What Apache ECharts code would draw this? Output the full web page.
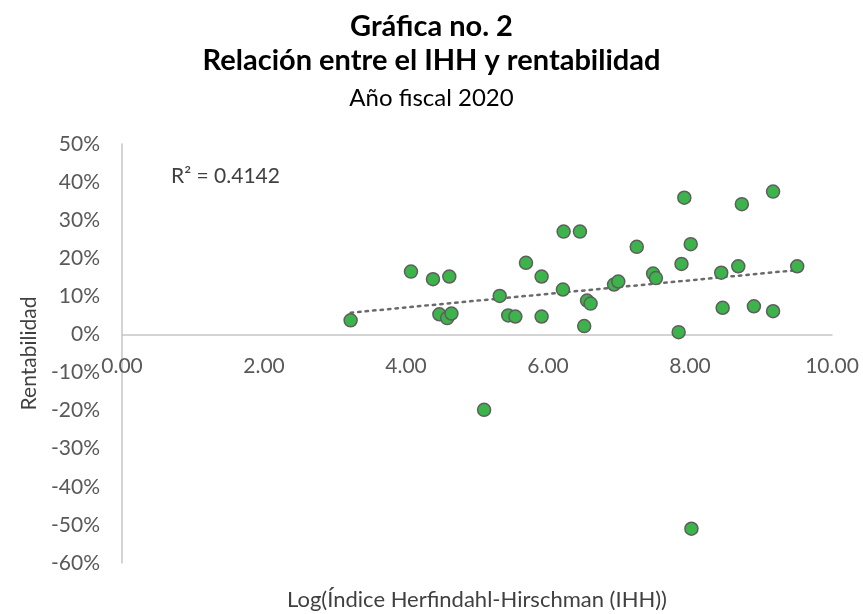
<!DOCTYPE html>
<html>
<head>
<meta charset="utf-8">
<script src="https://cdn.jsdelivr.net/npm/echarts@6/dist/echarts.min.js"></script>
<style>
  html, body { margin: 0; padding: 0; background: #fff; }
  #chart { width: 863px; height: 614px; }
</style>
</head>
<body>
<div id="chart"></div>
<script>
// Log(IHH) per company, fiscal year 2020
const logIHH = [
  3.22, 4.07, 4.38, 4.61, 4.47, 4.58, 4.64,
  5.32, 5.44, 5.54, 5.69, 5.91, 5.91, 6.22, 6.21, 6.45, 6.51, 6.55, 6.60,
  6.93, 6.99, 7.25, 7.48, 7.52, 7.84, 7.88, 7.92, 8.01,
  8.44, 8.46, 8.68, 8.73, 8.90, 9.17, 9.17, 9.51,
  5.10, 8.02
];
// Profitability (%) for the same companies
const rentabilidad = [
  3.7, 16.5, 14.5, 15.2, 5.3, 4.3, 5.5,
  10.1, 5.0, 4.7, 18.8, 15.2, 4.7, 27.0, 11.8, 27.0, 2.2, 8.9, 8.1,
  13.1, 13.9, 23.0, 16.0, 14.8, 0.6, 18.5, 35.9, 23.7,
  16.2, 7.0, 17.9, 34.2, 7.4, 37.5, 6.1, 17.9,
  -19.8, -51.0
];
// Linear trend line endpoints (x, y%)
const trendX = [3.22, 9.51];
const trendY = [5.7, 16.9];
const rSquared = '0.4142';

const xTicks = { min: 0, max: 10, interval: 2 };
const yTicks = { min: -60, max: 50, interval: 10 };

const W = 863, H = 614;
const GRID = { left: 122, right: 31, top: 144, bottom: 51 };
const plotW = W - GRID.left - GRID.right;
const plotH = H - GRID.top - GRID.bottom;
// The horizontal axis crosses at 0%: shift it up from the grid bottom by that much
const zeroLift = plotH * (0 - yTicks.min) / (yTicks.max - yTicks.min);

const FONT = 'Lato, "Open Sans", sans-serif';
const chart = echarts.init(document.getElementById('chart'), null, { renderer: 'canvas' });

chart.setOption({
  animation: false,
  backgroundColor: '#ffffff',
  title: [
    { text: 'Gráfica no. 2', left: 'center', top: 7,
      textStyle: { fontFamily: FONT, fontSize: 29, fontWeight: 'bold', color: '#000' } },
    { text: 'Relación entre el IHH y rentabilidad', left: 'center', top: 41,
      textStyle: { fontFamily: FONT, fontSize: 29, fontWeight: 'bold', color: '#000' } },
    { text: 'Año fiscal 2020', left: 'center', top: 81,
      textStyle: { fontFamily: FONT, fontSize: 24, fontWeight: 'normal', color: '#000' } },
    { text: 'R² = ' + rSquared, left: 166, top: 161,
      textStyle: { fontFamily: FONT, fontSize: 21, fontWeight: 'normal', color: '#404040' } }
  ],
  grid: Object.assign({ containLabel: false }, GRID),
  xAxis: {
    type: 'value',
    min: xTicks.min, max: xTicks.max, interval: xTicks.interval,
    offset: -zeroLift,
    axisLine: { onZero: false, lineStyle: { color: '#c6c6c6', width: 1.5 } },
    axisTick: { show: false },
    splitLine: { show: false },
    axisLabel: {
      fontFamily: FONT, fontSize: 21, color: '#595959', margin: 21,
      formatter: v => v.toFixed(2)
    }
  },
  yAxis: {
    type: 'value',
    min: yTicks.min, max: yTicks.max, interval: yTicks.interval,
    name: 'Rentabilidad',
    nameLocation: 'middle',
    nameGap: 82,
    nameRotate: 90,
    nameTextStyle: { fontFamily: FONT, fontSize: 21, color: '#404040' },
    axisLine: { show: true, lineStyle: { color: '#c6c6c6', width: 1.5 } },
    axisTick: { show: false },
    splitLine: { show: false },
    axisLabel: {
      fontFamily: FONT, fontSize: 21, color: '#595959', margin: 22,
      formatter: v => v + '%'
    }
  },
  graphic: [
    {
      // x-axis title, centred under the plot area at the foot of the chart
      type: 'text',
      x: GRID.left + plotW / 2,
      y: 600,
      style: {
        text: 'Log(Índice Herfindahl-Hirschman (IHH))',
        font: '22px ' + FONT,
        fill: '#404040',
        align: 'center',
        verticalAlign: 'middle'
      }
    }
  ],
  series: [
    {
      type: 'line',
      data: trendX.map((x, i) => [x, trendY[i]]),
      symbol: 'none',
      lineStyle: { color: '#6a6a6a', width: 2.5, type: [2.5, 5], cap: 'round' },
      z: 1,
      silent: true
    },
    {
      type: 'scatter',
      data: logIHH.map((x, i) => [x, rentabilidad[i]]),
      symbol: 'circle',
      symbolSize: 13,
      itemStyle: { color: '#3cb44b', borderColor: '#5e5e5e', borderWidth: 1.5, opacity: 1 },
      z: 2
    }
  ]
});
</script>
</body>
</html>
